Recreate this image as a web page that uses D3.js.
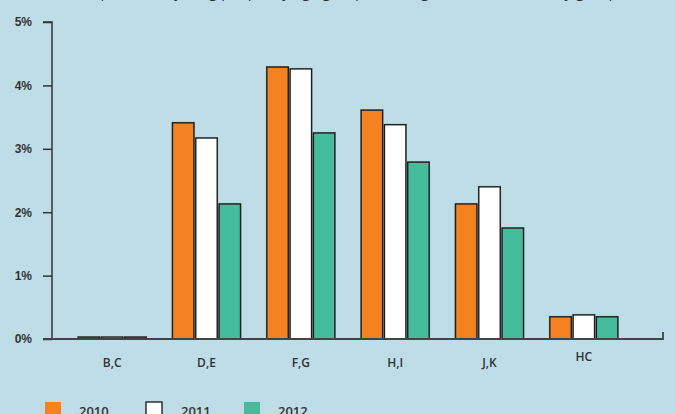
<!DOCTYPE html>
<html>
<head>
<meta charset="utf-8">
<script src="https://cdn.jsdelivr.net/npm/d3@7"></script>
<style>
  body { margin: 0; background: #bedde7; }
  svg { display: block; font-family: "Open Sans", "Noto Sans", sans-serif; }
  .lbl { fill: #333; font-weight: 600; font-size: 12px; }
</style>
</head>
<body>
<div id="chart"></div>
<script>
// Data
const categories = ["B,C", "D,E", "F,G", "H,I", "J,K", "HC"];
const years = ["2010", "2011", "2012"];
const values2010 = [0.03, 3.41, 4.29, 3.61, 2.13, 0.35];
const values2011 = [0.03, 3.17, 4.26, 3.38, 2.40, 0.38];
const values2012 = [0.03, 2.13, 3.25, 2.79, 1.75, 0.35];
const yTicks = [0, 1, 2, 3, 4, 5];
const colors = ["#f58220", "#ffffff", "#45bc9c"];

let width = 675,
    height = 414;

let svg = d3.select("#chart")
    .append("svg")
        .attr("width", width)
        .attr("height", height);

svg.append("rect")
    .attr("width", width)
    .attr("height", height)
    .attr("fill", "#bedde7");

// clipped title line at the very top (only descenders show)
svg.append("text")
    .attr("x", 72)
    .attr("y", -3.5)
    .attr("fill", "#333")
    .attr("font-size", 15)
    .text("(Proportion of young people by age group, all categories, 2010–2012, by group)");

let series = [values2010, values2011, values2012];
let rows = categories.map((c, i) => ({cat: c, vals: series.map(s => s[i])}));

let y = d3.scaleLinear().domain([0, 5]).range([339, 22]);
let x = d3.scaleBand().domain(categories).range([65, 631]);
let xs = d3.scaleBand().domain(years).range([0, 68]).paddingInner(0.08);

// Y axis
let yAxis = svg.append("g")
    .attr("transform", "translate(52,0)")
    .call(d3.axisLeft(y).tickValues(yTicks).tickSize(9).tickPadding(11).tickFormat(d => d + "%"));
yAxis.select(".domain").attr("d", `M0,${y(5)}H-9V${y(5)}H0V${y(0)}`).attr("stroke", "#333").attr("stroke-width", 1.5);
yAxis.selectAll(".tick line").attr("stroke", "#333").attr("stroke-width", 1.5);
yAxis.selectAll(".tick text").attr("class", "lbl").attr("font-size", null).attr("font-family", null);

// Bars
let groups = svg.append("g").selectAll("g")
    .data(rows)
    .join("g")
        .attr("transform", d => `translate(${x(d.cat) + x.bandwidth() / 2 - 34},0)`);

groups.selectAll("rect.shadow")
    .data(d => d.vals)
    .join("rect")
        .attr("class", "shadow")
        .attr("x", (d, i) => xs(years[i]) - 1)
        .attr("y", d => y(d) - 1)
        .attr("width", xs.bandwidth() + 2)
        .attr("height", d => y(0) - y(d) + 1)
        .attr("fill", "#7a8a90")
        .attr("opacity", 0.6);

groups.selectAll("rect.bar")
    .data(d => d.vals)
    .join("rect")
        .attr("class", "bar")
        .attr("x", (d, i) => xs(years[i]))
        .attr("y", d => y(d))
        .attr("width", xs.bandwidth())
        .attr("height", d => y(0) - y(d))
        .attr("fill", (d, i) => colors[i])
        .attr("stroke", "#1e1e1e")
        .attr("stroke-width", 1.4);

// X axis
svg.append("path")
    .attr("d", `M43,${y(0)}H663V${y(0) - 7}`)
    .attr("fill", "none")
    .attr("stroke", "#444")
    .attr("stroke-width", 1.8);

svg.append("g").selectAll("text")
    .data(categories)
    .join("text")
        .attr("class", "lbl")
        .attr("x", d => x(d) + x.bandwidth() / 2)
        .attr("y", d => d === "HC" ? 361 : 367)
        .attr("text-anchor", "middle")
        .text(d => d);

// Legend
let legend = svg.append("g").selectAll("g")
    .data(years)
    .join("g")
        .attr("transform", (d, i) => `translate(${[45, 146, 244][i]},402)`);
legend.append("rect")
    .attr("width", 16)
    .attr("height", 16)
    .attr("fill", (d, i) => colors[i])
    .attr("stroke", (d, i) => i === 1 ? "#222" : "none")
    .attr("stroke-width", 1.4);
legend.append("text")
    .attr("class", "lbl")
    .attr("x", (d, i) => [34, 35, 34][i])
    .attr("y", 14)
    .style("font-size", "13px")
    .text(d => d);
</script>
</body>
</html>
